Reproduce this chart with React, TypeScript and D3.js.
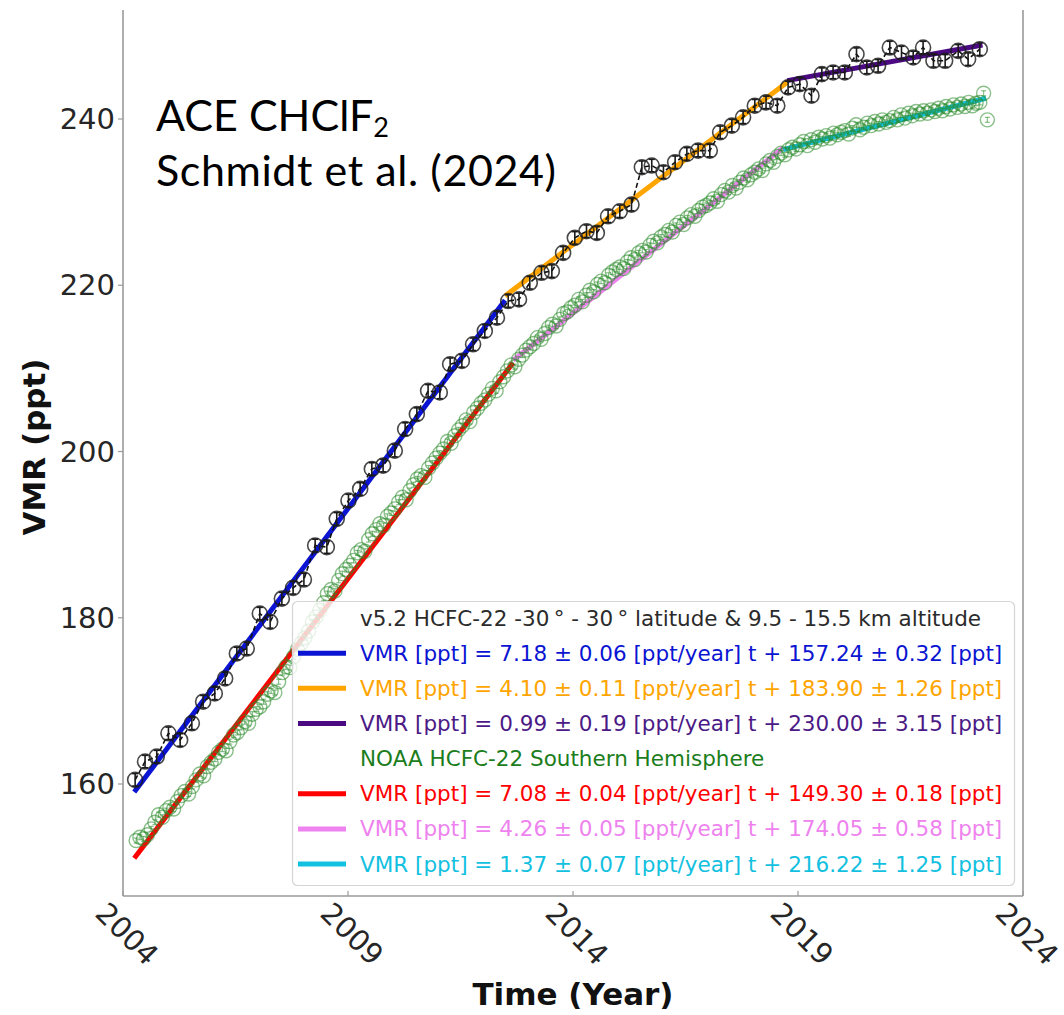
import React from 'react';
import * as d3 from 'd3';

// ACE-FTS HCFC-22 (quarterly means, -30..30 lat, 9.5-15.5 km)
const aceYears = [2004.27, 2004.49, 2004.75, 2005.01, 2005.27, 2005.53, 2005.78, 2006.04, 2006.27, 2006.53,
  2006.75, 2007.04, 2007.27, 2007.53, 2007.78, 2008.02, 2008.27, 2008.53, 2008.75, 2009.01,
  2009.27, 2009.53, 2009.78, 2010.04, 2010.27, 2010.53, 2010.78, 2011.04, 2011.27, 2011.53,
  2011.78, 2012.04, 2012.31, 2012.56, 2012.80, 2013.04, 2013.30, 2013.53, 2013.78, 2014.04,
  2014.30, 2014.53, 2014.78, 2015.04, 2015.30, 2015.53, 2015.75, 2016.01, 2016.27, 2016.53,
  2016.78, 2017.04, 2017.27, 2017.53, 2017.78, 2018.04, 2018.29, 2018.54, 2018.78, 2019.04,
  2019.30, 2019.53, 2019.78, 2020.04, 2020.30, 2020.53, 2020.78, 2021.04, 2021.30, 2021.56,
  2021.78, 2022.01, 2022.27, 2022.56, 2022.78, 2023.04];
const aceVmr = [160.5, 162.7, 163.3, 166.1, 165.3, 167.3, 169.9, 170.9, 172.7, 175.7,
  176.3, 180.5, 179.5, 182.3, 183.6, 184.6, 188.7, 188.5, 191.9, 194.1,
  195.5, 197.9, 198.3, 200.1, 202.7, 204.5, 207.3, 207.1, 210.5, 210.9,
  212.9, 214.5, 216.1, 218.1, 218.3, 220.3, 221.5, 221.7, 223.9, 225.7,
  226.5, 226.3, 228.3, 228.9, 229.7, 234.2, 234.4, 233.6, 234.8, 235.8,
  236.2, 236.2, 238.4, 239.2, 240.2, 241.6, 242.0, 241.6, 243.8, 244.2,
  242.8, 245.4, 245.6, 245.6, 247.8, 246.2, 246.4, 248.6, 248.0, 247.4,
  248.6, 247.0, 247.0, 248.2, 247.2, 248.4];
const aceErr = 0.75;

// NOAA HCFC-22 Southern Hemisphere, monthly, starting April 2004
const noaaStartYear = 2004;
const noaaStartMonth = 4;
const noaaVmr = [
  153.2, 153.6, 153.4, 153.9, 154.6, 155.4, 156.3, 156.0, 156.8,
  157.2, 157.0, 157.9, 158.6, 159.1, 158.8, 159.7, 160.5, 161.2, 161.0, 162.1, 162.6,
  163.0, 163.8, 164.2, 164.0, 165.1, 165.9, 166.2, 166.8, 167.5, 167.3, 168.4, 169.0,
  169.3, 169.9, 170.8, 171.2, 171.0, 172.3, 173.4, 174.1, 174.0, 175.3, 176.2, 176.9,
  177.6, 178.4, 179.5, 180.1, 180.9, 181.8, 182.9, 183.4, 183.2, 184.5, 185.3, 185.8,
  186.3, 186.9, 187.8, 188.2, 188.0, 189.4, 190.1, 190.6, 191.3, 191.1, 192.2, 192.6,
  193.1, 193.9, 194.5, 194.2, 195.3, 196.0, 196.7, 197.1, 196.9, 198.0, 198.6, 199.2,
  199.8, 200.3, 201.2, 201.0, 201.9, 202.6, 203.1, 203.8, 203.6, 204.7, 205.2, 205.8,
  206.2, 206.9, 207.6, 207.3, 208.4, 209.0, 209.7, 210.4, 210.2, 211.1, 211.6, 212.2,
  212.6, 213.0, 213.7, 213.5, 214.2, 214.9, 215.3, 215.1, 215.9, 216.6, 216.8, 217.3,
  217.6, 218.3, 218.0, 218.8, 219.4, 219.2, 220.1, 220.5, 220.3, 221.2, 221.6, 221.9,
  222.2, 222.0, 222.8, 223.3, 223.1, 223.9, 224.2, 224.0, 224.8, 225.3, 225.1, 225.8,
  226.1, 226.6, 226.4, 227.2, 227.6, 227.3, 228.1, 228.5, 228.3, 229.0, 229.4, 229.6,
  229.9, 230.4, 230.1, 230.9, 231.4, 231.2, 232.0, 231.7, 232.4, 232.9, 232.7, 233.3,
  233.6, 234.0, 233.8, 234.6, 235.0, 234.8, 235.5, 235.9, 235.7, 236.3, 236.6, 236.4,
  236.9, 237.3, 236.8, 237.5, 237.2, 237.8, 237.6, 238.0, 237.7, 238.3, 238.1, 238.4,
  238.6, 238.2, 238.9, 239.3, 238.7, 239.0, 239.5, 239.2, 239.7, 239.4, 239.9, 239.6,
  239.8, 240.2, 239.9, 240.5, 240.1, 240.7, 240.4, 240.9, 240.6, 241.0, 240.7, 241.1,
  240.9, 241.3, 241.0, 241.5, 241.2, 241.7, 241.4, 241.8, 241.5, 242.0, 241.6, 241.9,
  242.0, 243.1, 239.9];
const noaaErr = 0.3;

// Piecewise linear fits: VMR = slope * (year - 2004) + intercept
const fitRefYear = 2004;
const fitSlopes = [7.18, 4.10, 0.99, 7.08, 4.26, 1.37];
const fitSlopeErrs = [0.06, 0.11, 0.19, 0.04, 0.05, 0.07];
const fitIntercepts = [157.24, 183.90, 230.00, 149.30, 174.05, 216.22];
const fitInterceptErrs = [0.32, 1.26, 3.15, 0.18, 0.58, 1.25];
const fitStarts = [2004.25, 2012.49, 2018.76, 2004.25, 2012.67, 2018.67];
const fitEnds = [2012.49, 2018.76, 2023.10, 2012.67, 2018.67, 2023.18];
const fitColors = ['#0a14d2', '#ffa500', '#4b0a82', '#ff0000', '#ee82ee', '#12c0e0'];

const xTicks = [2004, 2009, 2014, 2019, 2024];
const yTicks = [160, 180, 200, 220, 240];

const aceTitle = 'v5.2 HCFC-22 -30\u2009\u00b0 - 30\u2009\u00b0 latitude & 9.5 - 15.5 km altitude';
const noaaTitle = 'NOAA HCFC-22 Southern Hemisphere';

const W = 1064;
const H = 1015;
const L = 123, R = 1023, T = 10, B = 896;

export default function App() {
  const x = d3.scaleLinear().domain([2004, 2024]).range([L, R]);
  const y = d3.scaleLinear().domain([160, 240]).range([784, 119]);

  const noaaYears = noaaVmr.map((_, i) => noaaStartYear + (noaaStartMonth - 1 + i + 0.5) / 12);

  const aceLine = d3.line<number>().x((_, i) => x(aceYears[i])).y((v) => y(v));

  const fitLine = (k: number) =>
    d3.line<number>().x((t) => x(t)).y((t) => y(fitSlopes[k] * (t - fitRefYear) + fitIntercepts[k]))([fitStarts[k], fitEnds[k]]) || '';

  const fitLabel = (k: number) =>
    `VMR [ppt] = ${fitSlopes[k].toFixed(2)} \u00b1 ${fitSlopeErrs[k].toFixed(2)} [ppt/year] t + ${fitIntercepts[k].toFixed(2)} \u00b1 ${fitInterceptErrs[k].toFixed(2)} [ppt]`;

  const legendRows: { label: string; color: string; handle: boolean }[] = [
    { label: aceTitle, color: '#2b2b2b', handle: false },
    { label: fitLabel(0), color: fitColors[0], handle: true },
    { label: fitLabel(1), color: fitColors[1], handle: true },
    { label: fitLabel(2), color: '#4b1a86', handle: true },
    { label: noaaTitle, color: '#1b7d1b', handle: false },
    { label: fitLabel(3), color: fitColors[3], handle: true },
    { label: fitLabel(4), color: fitColors[4], handle: true },
    { label: fitLabel(5), color: fitColors[5], handle: true },
  ];
  const legendHandleColors = [null, fitColors[0], fitColors[1], fitColors[2], null, fitColors[3], fitColors[4], fitColors[5]];

  const tickFont = 'DejaVu Sans, sans-serif';

  return (
    <svg width={W} height={H} style={{ position: 'absolute', left: 0, top: 0, background: '#fff' }}
      xmlns="http://www.w3.org/2000/svg">
      <defs>
        <clipPath id="plotClip">
          <rect x={L} y={T} width={R - L} height={B - T} />
        </clipPath>
      </defs>
      <rect x={0} y={0} width={W} height={H} fill="#fff" />

      <g clipPath="url(#plotClip)">
        {/* fit lines */}
        {fitSlopes.map((_, k) => (
          <path key={'fit' + k} d={fitLine(k)} stroke={fitColors[k]} strokeWidth={5} fill="none" strokeLinecap="butt" />
        ))}

        {/* ACE dashed connecting line */}
        <path d={aceLine(aceVmr) || ''} fill="none" stroke="#111" strokeWidth={1.6} strokeDasharray="5,3" />

        {/* ACE points with error bars */}
        {aceVmr.map((v, i) => {
          const cx = x(aceYears[i]);
          const y1 = y(v + aceErr), y2 = y(v - aceErr);
          return (
            <g key={'ace' + i} stroke="#1a1a1a" fill="none">
              <line x1={cx} x2={cx} y1={y1} y2={y2} strokeWidth={1.6} />
              <line x1={cx - 3} x2={cx + 3} y1={y1} y2={y1} strokeWidth={1.6} />
              <line x1={cx - 3} x2={cx + 3} y1={y2} y2={y2} strokeWidth={1.6} />
              <circle cx={cx} cy={y(v)} r={7.5} strokeWidth={1.6} strokeOpacity={0.8} />
            </g>
          );
        })}

        {/* NOAA points */}
        {noaaVmr.map((v, i) => {
          const cx = x(noaaYears[i]);
          const y1 = y(v + noaaErr), y2 = y(v - noaaErr);
          return (
            <g key={'noaa' + i} stroke="#2a8a2a" fill="none" strokeOpacity={0.55}>
              <line x1={cx} x2={cx} y1={y1} y2={y2} strokeWidth={1.2} />
              <line x1={cx - 2.5} x2={cx + 2.5} y1={y1} y2={y1} strokeWidth={1.2} />
              <line x1={cx - 2.5} x2={cx + 2.5} y1={y2} y2={y2} strokeWidth={1.2} />
              <circle cx={cx} cy={y(v)} r={7} strokeWidth={1.4} />
            </g>
          );
        })}
      </g>

      {/* spines */}
      <line x1={L} x2={L} y1={T} y2={B} stroke="#9a9a9a" strokeWidth={1.6} />
      <line x1={R} x2={R} y1={T} y2={B} stroke="#9a9a9a" strokeWidth={1.6} />
      <line x1={L} x2={R} y1={B} y2={B} stroke="#9a9a9a" strokeWidth={1.6} />

      {/* y ticks */}
      {yTicks.map((t) => (
        <g key={'yt' + t}>
          <line x1={L - 5} x2={L} y1={y(t)} y2={y(t)} stroke="#9a9a9a" strokeWidth={1.2} />
          <text x={L - 8} y={y(t)} textAnchor="end" dominantBaseline="central" fontFamily={tickFont}
            fontSize={29} fill="#262626">{t}</text>
        </g>
      ))}

      {/* x ticks */}
      {xTicks.map((t) => (
        <g key={'xt' + t}>
          <line x1={x(t)} x2={x(t)} y1={B - 5} y2={B} stroke="#9a9a9a" strokeWidth={1.2} />
          <text transform={`translate(${x(t) + 4},${B + 38}) rotate(45)`} textAnchor="middle" dominantBaseline="central"
            fontFamily={tickFont} fontSize={29} fill="#262626">{t}</text>
        </g>
      ))}

      {/* axis titles */}
      <text x={(L + R) / 2} y={1005} textAnchor="middle" fontFamily="DejaVu Sans, sans-serif" fontWeight="bold"
        fontSize={31} fill="#111">Time (Year)</text>
      <text transform={`translate(45,447) rotate(-90)`} textAnchor="middle" fontFamily="DejaVu Sans, sans-serif"
        fontWeight="bold" fontSize={31} fill="#111">VMR (ppt)</text>

      {/* annotation */}
      <text x={156} y={131} fontFamily="Lato, sans-serif" fontSize={43} fill="#000">
        ACE CHClF<tspan fontSize={27} dy={6}>2</tspan>
      </text>
      <text x={156} y={186} fontFamily="Lato, sans-serif" fontSize={43} fill="#000" textLength={400}
        lengthAdjust="spacing">Schmidt et al. (2024)</text>

      {/* legend */}
      <rect x={292.5} y={601.5} width={722} height={284} rx={5} fill="#fff" fillOpacity={0.8} stroke="#d4d4d4" strokeWidth={1.2} />
      {legendRows.map((row, i) => {
        const ry = 618 + i * 35.15;
        const hc = legendHandleColors[i];
        return (
          <g key={'lg' + i}>
            {row.handle && hc && <line x1={298} x2={346} y1={ry} y2={ry} stroke={hc} strokeWidth={5} />}
            <text x={360} y={ry} dominantBaseline="central" fontFamily="DejaVu Sans, sans-serif" fontSize={21.5}
              fill={row.color}>{row.label}</text>
          </g>
        );
      })}
    </svg>
  );
}
